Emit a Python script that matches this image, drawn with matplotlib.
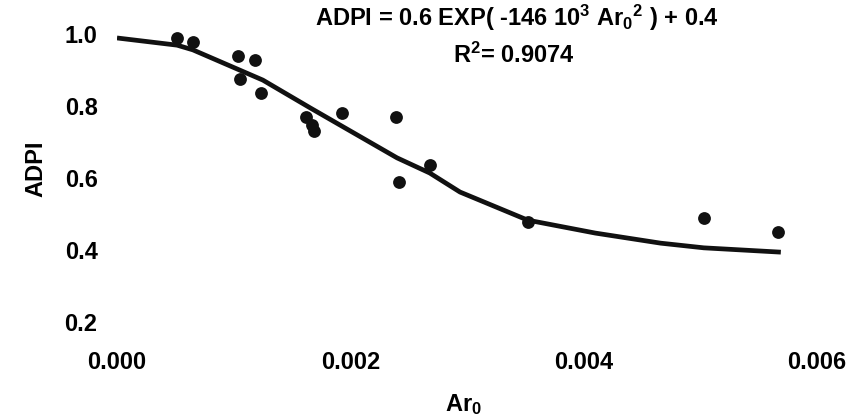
import matplotlib
matplotlib.use("Agg")
import matplotlib.pyplot as plt

plt.rcParams['font.family'] = ['Liberation Sans', 'DejaVu Sans']
plt.rcParams['font.weight'] = 'bold'
plt.rcParams['mathtext.fontset'] = 'custom'
plt.rcParams['mathtext.rm'] = 'Liberation Sans:bold'
plt.rcParams['mathtext.bf'] = 'Liberation Sans:bold'
plt.rcParams['mathtext.it'] = 'Liberation Sans:bold'
plt.rcParams['mathtext.default'] = 'bf'

# Measured points
ar0 = [0.000515, 0.00065, 0.00104, 0.00118, 0.00105, 0.00123, 0.00162, 0.00167,
       0.00169, 0.00193, 0.00239, 0.00242, 0.00268, 0.00352, 0.00503, 0.00567]
adpi = [0.989, 0.978, 0.939, 0.928, 0.875, 0.836, 0.770, 0.747,
        0.730, 0.780, 0.769, 0.589, 0.636, 0.478, 0.489, 0.450]

# Fitted curve as drawn
fit_x = [0.0, 0.000515, 0.00065, 0.00105, 0.00125, 0.00166, 0.0024, 0.00268,
         0.00294, 0.00352, 0.00410, 0.00466, 0.00503, 0.00569]
fit_y = [0.989, 0.969, 0.956, 0.900, 0.872, 0.794, 0.656, 0.614,
         0.561, 0.483, 0.447, 0.419, 0.406, 0.394]

xticks = [0.000, 0.002, 0.004, 0.006]
xtick_labels = ['0.000', '0.002', '0.004', '0.006']
yticks = [0.2, 0.4, 0.6, 0.8, 1.0]
ytick_labels = ['0.2', '0.4', '0.6', '0.8', '1.0']

FS = 17

fig = plt.figure(figsize=(8.56, 4.18), dpi=100)
ax = fig.add_axes([117/856, 1-322/418, 700/856, (322-16)/418])

ax.plot(fit_x, fit_y, color='#111111', lw=3.4, solid_capstyle='butt', zorder=2)
ax.scatter(ar0, adpi, s=85, color='#111111', zorder=3, linewidths=0)

ax.set_xlim(0, 0.006)
ax.set_ylim(0.2, 1.05)
ax.set_xticks(xticks)
ax.set_xticklabels(xtick_labels)
ax.set_yticks(yticks)
ax.set_yticklabels(ytick_labels)
for s in ax.spines.values():
    s.set_visible(False)
ax.tick_params(axis='both', length=0, labelsize=FS)
ax.tick_params(axis='x', pad=21)
ax.tick_params(axis='y', pad=14)

ax.set_ylabel('ADPI', fontsize=FS, fontweight='bold', labelpad=12)
fig.text(463/856, 1-405/418, 'Ar$_0$', fontsize=FS, fontweight='bold',
         ha='center', va='center')

fig.text(517/856, 1-18/418, 'ADPI = 0.6 EXP( -146 10$^3$ Ar$_0$$^2$ ) + 0.4',
         fontsize=FS, fontweight='bold', ha='center', va='center')
fig.text(514/856, 1-55/418, 'R$^2$= 0.9074',
         fontsize=FS, fontweight='bold', ha='center', va='center')

fig.savefig('out.png', dpi=100, facecolor='white')
